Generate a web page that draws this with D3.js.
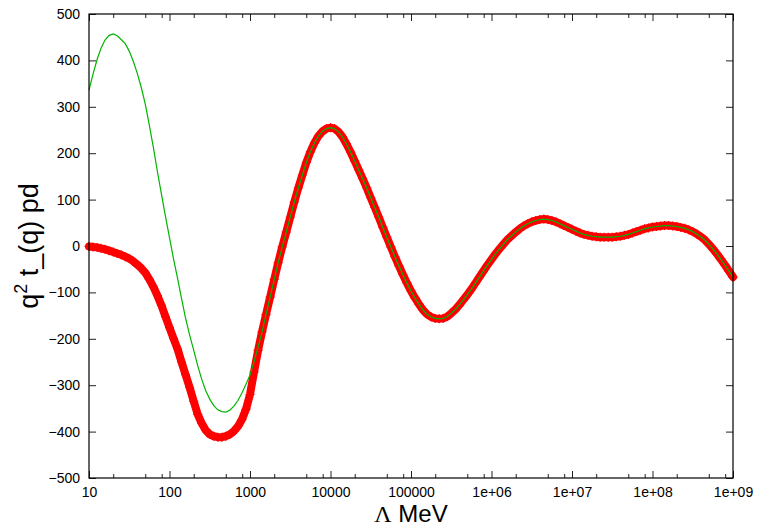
<!DOCTYPE html>
<html>
<head>
<meta charset="utf-8">
<script src="https://cdn.jsdelivr.net/npm/d3@7/dist/d3.min.js"></script>
<style>
    body { margin: 0; background: #fff; }
    text { font-family: "Liberation Sans", Arial, sans-serif; fill: #000; }
</style>
</head>
<body>
<svg id="chart" width="758" height="527"></svg>
<script>
// Lambda (MeV), sampled every 0.05 decade
const lambda = [
    1.00e1, 1.12e1, 1.26e1, 1.41e1, 1.58e1, 1.78e1, 2.00e1, 2.24e1, 2.51e1, 2.82e1,
    3.16e1, 3.55e1, 3.98e1, 4.47e1, 5.01e1, 5.62e1, 6.31e1, 7.08e1, 7.94e1, 8.91e1,
    1.00e2, 1.12e2, 1.26e2, 1.41e2, 1.58e2, 1.78e2, 2.00e2, 2.24e2, 2.51e2, 2.82e2,
    3.16e2, 3.55e2, 3.98e2, 4.47e2, 5.01e2, 5.62e2, 6.31e2, 7.08e2, 7.94e2, 8.91e2,
    1.00e3, 1.12e3, 1.26e3, 1.41e3, 1.58e3, 1.78e3, 2.00e3, 2.24e3, 2.51e3, 2.82e3,
    3.16e3, 3.55e3, 3.98e3, 4.47e3, 5.01e3, 5.62e3, 6.31e3, 7.08e3, 7.94e3, 8.91e3,
    1.00e4, 1.12e4, 1.26e4, 1.41e4, 1.58e4, 1.78e4, 2.00e4, 2.24e4, 2.51e4, 2.82e4,
    3.16e4, 3.55e4, 3.98e4, 4.47e4, 5.01e4, 5.62e4, 6.31e4, 7.08e4, 7.94e4, 8.91e4,
    1.00e5, 1.12e5, 1.26e5, 1.41e5, 1.58e5, 1.78e5, 2.00e5, 2.24e5, 2.51e5, 2.82e5,
    3.16e5, 3.55e5, 3.98e5, 4.47e5, 5.01e5, 5.62e5, 6.31e5, 7.08e5, 7.94e5, 8.91e5,
    1.00e6, 1.12e6, 1.26e6, 1.41e6, 1.58e6, 1.78e6, 2.00e6, 2.24e6, 2.51e6, 2.82e6,
    3.16e6, 3.55e6, 3.98e6, 4.47e6, 5.01e6, 5.62e6, 6.31e6, 7.08e6, 7.94e6, 8.91e6,
    1.00e7, 1.12e7, 1.26e7, 1.41e7, 1.58e7, 1.78e7, 2.00e7, 2.24e7, 2.51e7, 2.82e7,
    3.16e7, 3.55e7, 3.98e7, 4.47e7, 5.01e7, 5.62e7, 6.31e7, 7.08e7, 7.94e7, 8.91e7,
    1.00e8, 1.12e8, 1.26e8, 1.41e8, 1.58e8, 1.78e8, 2.00e8, 2.24e8, 2.51e8, 2.82e8,
    3.16e8, 3.55e8, 3.98e8, 4.47e8, 5.01e8, 5.62e8, 6.31e8, 7.08e8, 7.94e8, 8.91e8,
    1.00e9
];

// red points
const redPd = [
    -1, -2, -3, -5, -7, -10, -13, -16, -19, -23,
    -27, -33, -40, -48, -58, -72, -88, -107, -128, -152,
    -176, -199, -222, -250, -277, -305, -335, -363, -382, -397,
    -406, -410, -412, -412, -410, -406, -399, -389, -374, -352,
    -320, -272, -225, -185, -148, -110, -72, -36, -2, 30,
    62, 95, 125, 153, 180, 203, 222, 237, 247, 253,
    255, 253, 246, 235, 220, 202, 183, 164, 145, 125,
    104, 83, 62, 40, 19, -2, -23, -43, -62, -80,
    -97, -112, -126, -138, -147, -153, -156, -157, -156, -152,
    -145, -137, -127, -116, -105, -93, -80, -67, -54, -41,
    -29, -17, -6, 4, 14, 22, 30, 37, 43, 48,
    52, 55, 57, 58, 57, 55, 52, 48, 44, 40,
    36, 32, 28, 25, 23, 21, 20, 19, 19, 19,
    19, 20, 21, 23, 25, 28, 31, 34, 37, 39,
    41, 42, 43, 44, 44, 43, 42, 40, 38, 35,
    31, 26, 20, 13, 4, -6, -17, -29, -41, -54,
    -67
];

// green line
const greenPd = [
    336, 370, 402, 426, 444, 454, 457, 453, 445, 436,
    420, 398, 372, 341, 305, 260, 212, 160, 112, 64,
    18, -27, -70, -113, -155, -192, -225, -258, -287, -312,
    -330, -344, -353, -357, -358, -354, -345, -333, -317, -298,
    -278, -250, -218, -185, -148, -110, -72, -36, -2, 30,
    62, 95, 125, 153, 180, 203, 222, 237, 247, 253,
    255, 253, 246, 235, 220, 202, 183, 164, 145, 125,
    104, 83, 62, 40, 19, -2, -23, -43, -62, -80,
    -97, -112, -126, -138, -147, -153, -156, -157, -156, -152,
    -145, -137, -127, -116, -105, -93, -80, -67, -54, -41,
    -29, -17, -6, 4, 14, 22, 30, 37, 43, 48,
    52, 55, 57, 58, 57, 55, 52, 48, 44, 40,
    36, 32, 28, 25, 23, 21, 20, 19, 19, 19,
    19, 20, 21, 23, 25, 28, 31, 34, 37, 39,
    41, 42, 43, 44, 44, 43, 42, 40, 38, 35,
    31, 26, 20, 13, 4, -6, -17, -29, -41, -54,
    -67
];

const xMajorTicks = [1e1, 1e2, 1e3, 1e4, 1e5, 1e6, 1e7, 1e8, 1e9];
const xTickLabels = ["10", "100", "1000", "10000", "100000", "1e+06", "1e+07", "1e+08", "1e+09"];
const xMinorTicks = [2e1, 5e1, 8e1, 2e2, 5e2, 8e2, 2e3, 5e3, 8e3, 2e4, 5e4, 8e4,
    2e5, 5e5, 8e5, 2e6, 5e6, 8e6, 2e7, 5e7, 8e7, 2e8, 5e8, 8e8];
const yTicks = [-500, -400, -300, -200, -100, 0, 100, 200, 300, 400, 500];

let svg = d3.select("#chart");
let plotLeft = 89, plotRight = 733, plotTop = 14, plotBottom = 478;

let x = d3.scaleLog().domain([10, 1e9]).range([plotLeft, plotRight]);
let y = d3.scaleLinear().domain([-500, 500]).range([plotBottom, plotTop]);

// ticks, inward on all four sides
function xLabel(d) {
    return xTickLabels[xMajorTicks.indexOf(d)];
}

svg.append("g")
    .attr("transform", "translate(0," + plotBottom + ")")
    .call(d3.axisBottom(x).tickValues(xMajorTicks).tickFormat(xLabel).tickSize(-7).tickPadding(9));
svg.append("g")
    .attr("transform", "translate(0," + plotBottom + ")")
    .call(d3.axisBottom(x).tickValues(xMinorTicks).tickFormat("").tickSize(-4));
svg.append("g")
    .attr("transform", "translate(0," + plotTop + ")")
    .call(d3.axisTop(x).tickValues(xMajorTicks).tickFormat("").tickSize(-7));
svg.append("g")
    .attr("transform", "translate(0," + plotTop + ")")
    .call(d3.axisTop(x).tickValues(xMinorTicks).tickFormat("").tickSize(-4));
svg.append("g")
    .attr("transform", "translate(" + plotLeft + ",0)")
    .call(d3.axisLeft(y).tickValues(yTicks).tickSize(-7).tickPadding(9));
svg.append("g")
    .attr("transform", "translate(" + plotRight + ",0)")
    .call(d3.axisRight(y).tickValues(yTicks).tickFormat("").tickSize(-7));

svg.selectAll(".domain").remove();
svg.selectAll(".tick line").attr("stroke", "#222");
svg.selectAll(".tick text")
    .style("font-family", '"Liberation Sans", Arial, sans-serif')
    .attr("font-size", "14px")
    .attr("fill", "#000");

// red: the points are so dense they merge into a band
let redLine = d3.line()
    .x(function (d) { return x(d); })
    .y(function (d, i) { return y(redPd[i]); });

svg.append("path")
    .datum(lambda)
    .attr("d", redLine)
    .attr("fill", "none")
    .attr("stroke", "#ff0000")
    .attr("stroke-width", 8)
    .attr("stroke-linejoin", "round")
    .attr("stroke-linecap", "round");

svg.append("g")
    .selectAll("path")
    .data(lambda)
    .enter().append("path")
    .attr("transform", function (d, i) { return "translate(" + x(d) + "," + y(redPd[i]) + ")"; })
    .attr("d", "M-4.5,0H4.5M0,-4.5V4.5")
    .attr("stroke", "#ff0000")
    .attr("stroke-width", 1.2)
    .attr("fill", "none");

// green line
let line = d3.line()
    .x(function (d) { return x(d); })
    .y(function (d, i) { return y(greenPd[i]); });

svg.append("path")
    .datum(lambda)
    .attr("d", line)
    .attr("fill", "none")
    .attr("stroke", "#00b400")
    .attr("stroke-width", 1.2);

// border
svg.append("rect")
    .attr("x", plotLeft)
    .attr("y", plotTop)
    .attr("width", plotRight - plotLeft)
    .attr("height", plotBottom - plotTop)
    .attr("fill", "none")
    .attr("stroke", "#000")
    .attr("stroke-width", 1.2);

// axis titles
let xt = svg.append("text")
    .attr("x", (plotLeft + plotRight) / 2)
    .attr("y", 521.5)
    .attr("text-anchor", "middle")
    .attr("font-size", "24px");
xt.append("tspan").style("font-family", '"Liberation Serif", serif').text("Λ");
xt.append("tspan").text(" MeV");

let yt = svg.append("text")
    .attr("transform", "translate(38," + (plotTop + plotBottom) / 2 + ") rotate(-90)")
    .attr("text-anchor", "middle")
    .attr("font-size", "27px");
yt.append("tspan").text("q");
yt.append("tspan").attr("dy", "-11").attr("font-size", "18px").text("2");
yt.append("tspan").attr("dy", "11").text(" t_(q) pd");
</script>
</body>
</html>
